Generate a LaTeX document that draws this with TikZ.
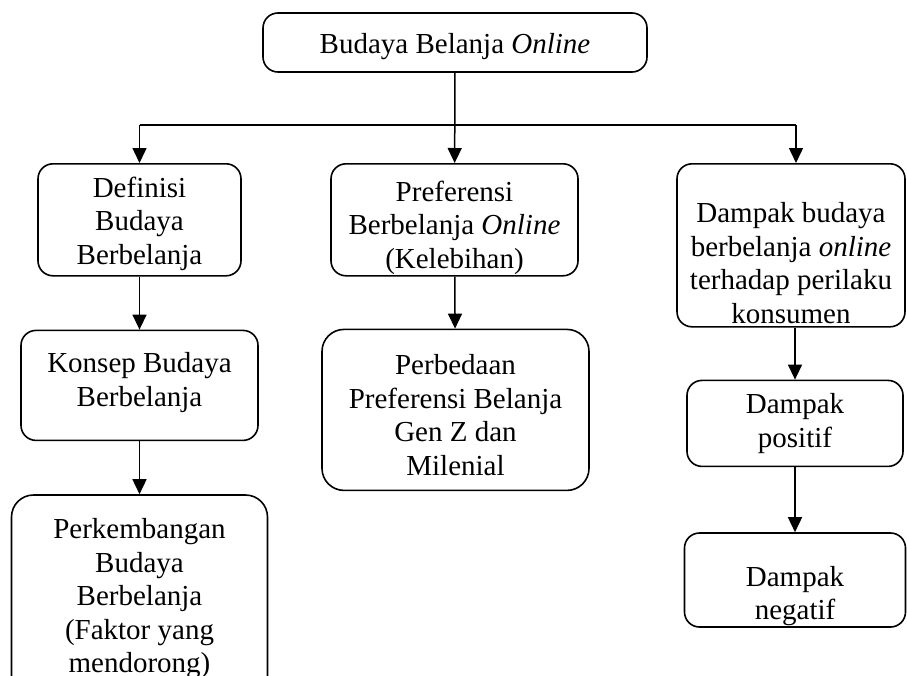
\documentclass[tikz,border=0pt]{standalone}
\usepackage{fontspec}
\setmainfont{Liberation Serif}
\usetikzlibrary{positioning,arrows.meta}
\tikzset{
  >={Triangle[length=15pt,width=14pt]},
  box/.style={draw=black,line width=1.6pt,rounded corners=15pt},
  bigbox/.style={box,rounded corners=22pt},
  boxtxt/.style={align=center,inner sep=0pt,font=\fontsize{29}{33.5}\selectfont},
  flow/.style={->,line width=1.5pt},
  bus/.style={line width=1.5pt},
}

\begin{document}
\begin{tikzpicture}[x=1pt,y=-1pt]
  \useasboundingbox (0,0) rectangle (907,675);
  \clip (0,0) rectangle (907,675);
  % top
  \node[box,minimum width=384pt,minimum height=59pt] (top) at (455,42.5) {};
  \node[boxtxt] (ttop) at ([yshift=-4pt]top.center) {Budaya Belanja \textit{Online}};
  % row one
  \node[box,anchor=north,minimum width=203pt,minimum height=112pt] (def) at (139.5,163) {};
  \node[box,anchor=north,minimum width=247pt,minimum height=112pt] (pref) at (454.5,163) {};
  \node[box,anchor=north,minimum width=228pt,minimum height=163pt] (dampak) at (791,163) {};
  % row two
  \node[box,below=53pt of def,minimum width=237pt,minimum height=110pt] (konsep) {};
  \node[bigbox,below=52pt of pref,xshift=1pt,minimum width=267pt,minimum height=161pt] (perb) {};
  \node[box,below=52pt of dampak,xshift=4pt,minimum width=216pt,minimum height=86pt] (pos) {};
  % row three
  \node[bigbox,below=53pt of konsep,minimum width=256pt,minimum height=208pt] (perk) {};
  \node[box,below=65pt of pos,minimum width=221pt,minimum height=94pt] (neg) {};
  % texts
  \node[boxtxt] (tdef) at ([yshift=-4pt]def.center) {Definisi\\Budaya\\Berbelanja};
  \node[boxtxt] (tpref) at ([yshift=-8pt]pref.center) {Preferensi\\Berbelanja \textit{Online}\\(Kelebihan)};
  \node[boxtxt] (tdampak) at ([yshift=-18pt]dampak.center) {Dampak budaya\\berbelanja \textit{online}\\terhadap perilaku\\konsumen};
  \node[boxtxt] (tkonsep) at ([yshift=3pt]konsep.center) {Konsep Budaya\\Berbelanja};
  \node[boxtxt] (tperb) at ([yshift=-5pt]perb.center) {Perbedaan\\Preferensi Belanja\\Gen Z dan\\Milenial};
  \node[boxtxt] (tpos) at (pos.center) {Dampak\\positif};
  \node[boxtxt] (tperk) at (perk.center) {Perkembangan\\Budaya\\Berbelanja\\(Faktor yang\\mendorong)};
  \node[boxtxt] (tneg) at ([yshift=-16pt]neg.center) {Dampak\\negatif};
  % connectors
  \coordinate (lbus) at (139.5,125);
  \coordinate (rbus) at (796,125);
  \draw[bus] (lbus) -- (rbus);
  \draw[flow] (top) -- (pref);
  \draw[flow] (lbus) -- (def);
  \draw[flow] (rbus) -- (rbus |- dampak.north);
  \draw[flow] (def) -- (konsep);
  \draw[flow] (konsep) -- (perk);
  \draw[flow] (pref) -- (perb);
  \draw[flow] (pos.north |- dampak.south) -- (pos);
  \draw[flow] (pos) -- (neg);
\end{tikzpicture}
\end{document}
